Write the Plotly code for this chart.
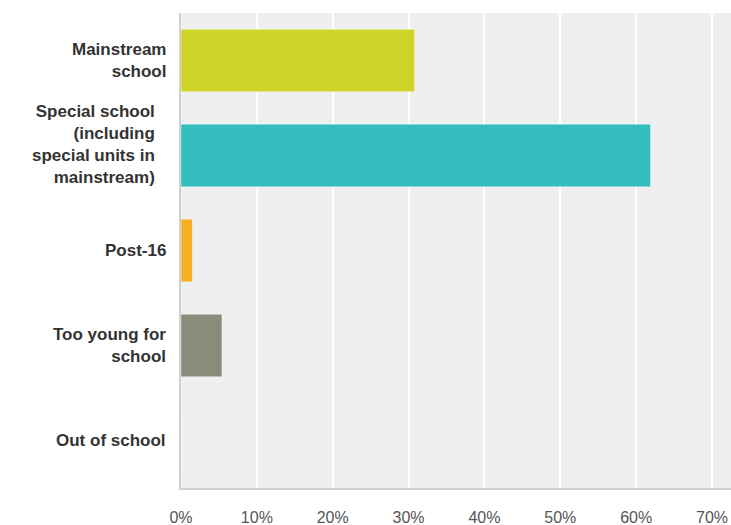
import plotly.graph_objects as go

categories = [
    "Mainstream<br>school",
    "Special school<br>(including<br>special units in<br>mainstream)",
    "Post-16",
    "Too young for<br>school",
    "Out of school",
]
values = [30.8, 61.9, 1.5, 5.4, 0.0]
colors = ["#CED42A", "#33BDBF", "#F6AE1F", "#8A8B78", "#8A8B78"]
tick_vals = [0, 10, 20, 30, 40, 50, 60, 70]
tick_text = ["0%", "10%", "20%", "30%", "40%", "50%", "60%", "70%"]

fig = go.Figure()
fig.add_trace(go.Bar(
    x=values,
    y=categories,
    orientation="h",
    marker=dict(color=colors, line=dict(color="rgba(255,255,255,0.45)", width=1)),
    hoverinfo="x+y",
))

# category labels as annotations (right aligned beside the axis)
label_shift = {1: (-24, 11)}
for i, c in enumerate(categories):
    xs, ys = label_shift.get(i, (-13, 0))
    fig.add_annotation(
        x=0, xref="paper", y=c, yref="y",
        text=c, showarrow=False,
        xanchor="right", yanchor="middle", align="right",
        xshift=xs, yshift=ys,
        font=dict(family="Liberation Sans, Arial, sans-serif", size=17,
                  color="#333333", weight="bold"),
    )

fig.update_layout(
    width=731, height=525,
    margin=dict(l=181, r=0, t=13, b=37),
    paper_bgcolor="white",
    plot_bgcolor="#EFEFEF",
    bargap=0.34,
    showlegend=False,
    font=dict(family="Liberation Sans, Arial, sans-serif"),
    xaxis=dict(
        range=[0, 72.5],
        tickvals=tick_vals, ticktext=tick_text,
        showgrid=True, gridcolor="white", gridwidth=2,
        zeroline=False,
        showline=True, linecolor="#D0D0D0", linewidth=2, mirror=False,
        ticks="outside", ticklen=14, tickcolor="rgba(0,0,0,0)",
        tickfont=dict(size=16, color="#555555"),
        fixedrange=True,
    ),
    yaxis=dict(
        autorange="reversed",
        showticklabels=False,
        showgrid=False,
        zeroline=False,
        showline=True, linecolor="#D0D0D0", linewidth=2,
        fixedrange=True,
    ),
)

fig.write_html(
    "out.html",
    config={"displayModeBar": False},
    post_script="document.body.style.margin='0';document.body.style.overflow='hidden';",
)
